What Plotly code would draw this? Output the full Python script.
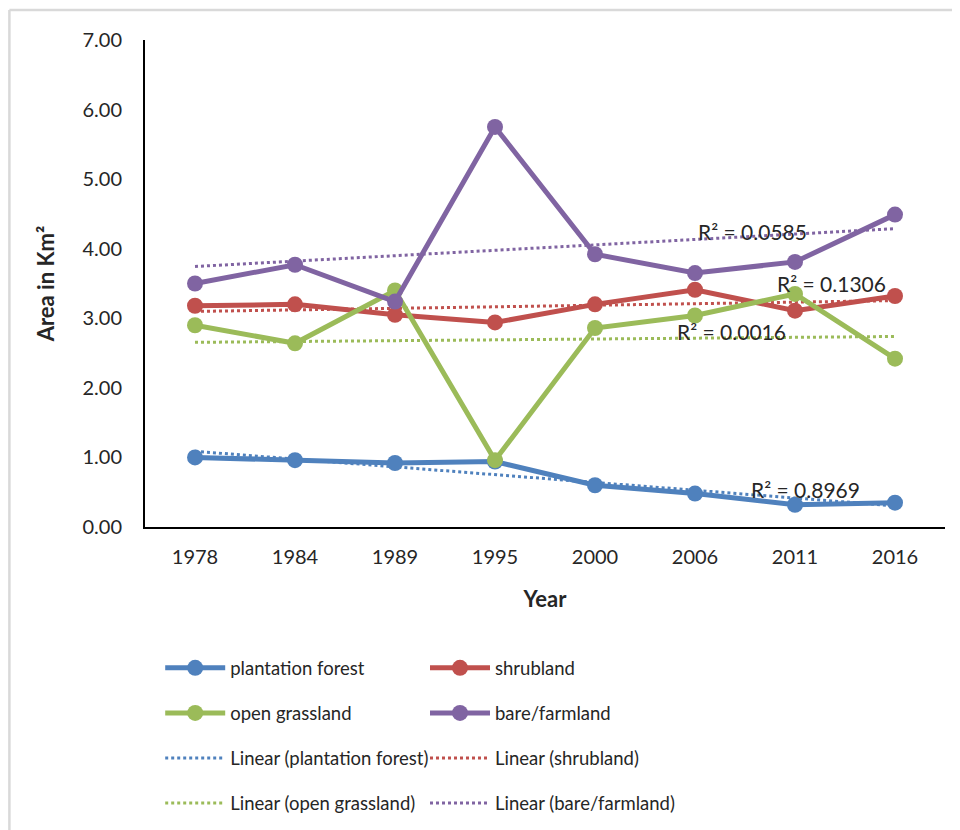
import numpy as np
import plotly.graph_objects as go

years = ["1978", "1984", "1989", "1995", "2000", "2006", "2011", "2016"]
plantation_forest = [1.00, 0.96, 0.92, 0.94, 0.60, 0.48, 0.32, 0.35]
shrubland = [3.18, 3.20, 3.05, 2.94, 3.20, 3.41, 3.11, 3.32]
open_grassland = [2.90, 2.64, 3.40, 0.96, 2.86, 3.04, 3.35, 2.42]
bare_farmland = [3.50, 3.77, 3.24, 5.75, 3.92, 3.65, 3.81, 4.49]

series_names = ["plantation forest", "shrubland", "open grassland", "bare/farmland"]
series_values = [plantation_forest, shrubland, open_grassland, bare_farmland]
colors = ["#4F81BD", "#C0504D", "#9BBB59", "#8064A2"]
r2_labels = ["R² = 0.8969", "R² = 0.1306", "R² = 0.0016", "R² = 0.0585"]
r2_pos = [(6.10, 0.54), (6.36, 3.50), (5.36, 2.81), (5.57, 4.25)]

FONT = "Lato"
legend_for = ["legend", "legend2", "legend", "legend2"]

fig = go.Figure()
idx = np.arange(len(years))

# trendlines (drawn underneath)
for i, (name, vals, col) in enumerate(zip(series_names, series_values, colors)):
    m, b = np.polyfit(idx, np.array(vals), 1)
    fig.add_trace(go.Scatter(
        x=years, y=m * idx + b, mode="lines",
        line=dict(color=col, width=3, dash="dot"),
        name=f"Linear ({name})", legend=legend_for[i],
        legendgroup=f"lin{i}", legendrank=10 + i, hoverinfo="skip"))

for i, (name, vals, col) in enumerate(zip(series_names, series_values, colors)):
    fig.add_trace(go.Scatter(
        x=years, y=vals, mode="lines+markers",
        line=dict(color=col, width=5),
        marker=dict(color=col, size=16),
        name=name, legend=legend_for[i],
        legendgroup=f"s{i}", legendrank=1 + i))

for txt, (xx, yy) in zip(r2_labels, r2_pos):
    fig.add_annotation(x=xx, y=yy, xref="x", yref="y", text=txt, showarrow=False,
                       font=dict(family=FONT, size=21, color="#262626"))

# outer light gray frame
frame = dict(type="line", xref="paper", yref="paper", line=dict(color="#D9D9D9", width=2.5))
fig.add_shape(**frame, x0=-0.1695, x1=1.06, y0=1.0616, y1=1.0616)
fig.add_shape(**frame, x0=-0.1695, x1=-0.1695, y0=1.0616, y1=-0.7)

leg_common = dict(orientation="v", yanchor="top", xanchor="left",
                  font=dict(family=FONT, size=18.5, color="#262626"),
                  tracegroupgap=18, itemwidth=60, bgcolor="rgba(0,0,0,0)",
                  traceorder="grouped")

fig.update_layout(
    width=960, height=830,
    margin=dict(l=137, r=23, t=32, b=311, autoexpand=False),
    plot_bgcolor="white", paper_bgcolor="white",
    font=dict(family=FONT, size=20, color="#262626"),
    xaxis=dict(type="category", range=[-0.5, 7.5], showline=True, linecolor="#000000",
               linewidth=2, showgrid=False, ticks="", ticklabelstandoff=11,
               tickfont=dict(family=FONT, size=20, color="#262626"),
               title=dict(text="<b>Year</b>", standoff=25,
                          font=dict(family=FONT, size=22, color="#262626"))),
    yaxis=dict(range=[0, 7], dtick=1, tickformat=".2f", showline=True, linecolor="#000000",
               linewidth=2, showgrid=False, zeroline=False, ticks="", ticklabelstandoff=17,
               tickfont=dict(family=FONT, size=20, color="#262626"),
               title=dict(text="<b>Area in Km²</b>", standoff=22,
                          font=dict(family=FONT, size=22, color="#262626"))),
    legend=dict(**leg_common, x=0.019, y=-0.2512),
    legend2=dict(**leg_common, x=0.35, y=-0.2512),
)

fig.write_html("out.html")
